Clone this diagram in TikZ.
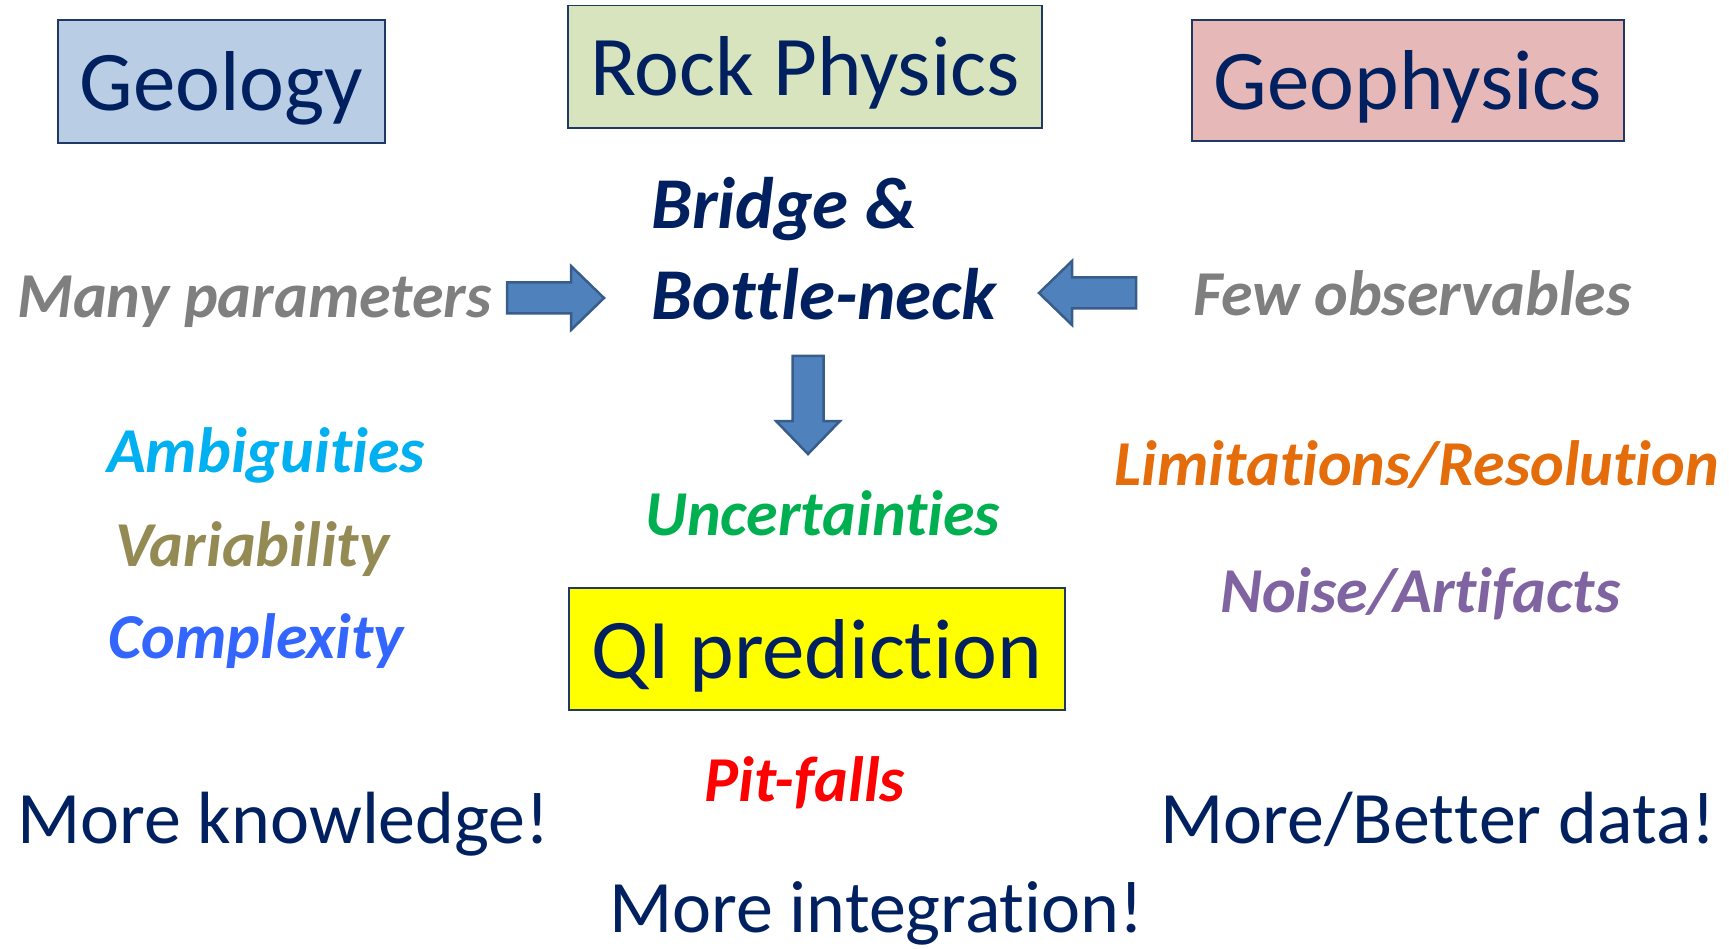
\documentclass[tikz,border=0pt]{standalone}
\usepackage{fontspec}
\setmainfont{Carlito}[Ligatures={NoCommon,NoContextual}]
\newcommand\zk{\kern0pt }
\definecolor{navy}{HTML}{002060}
\definecolor{boxline}{HTML}{1F3864}
\definecolor{geofill}{HTML}{B9CDE5}
\definecolor{rockfill}{HTML}{D7E4BD}
\definecolor{gphfill}{HTML}{E6B9B8}
\definecolor{qifill}{HTML}{FFFF00}
\definecolor{grayt}{HTML}{7F7F7F}
\definecolor{cyant}{HTML}{00B0F0}
\definecolor{olivet}{HTML}{948A54}
\definecolor{bluet}{HTML}{3366FF}
\definecolor{greent}{HTML}{00B050}
\definecolor{oranget}{HTML}{E46C0A}
\definecolor{purplet}{HTML}{8064A2}
\definecolor{redt}{HTML}{FF0000}
\definecolor{arrfill}{HTML}{4F81BD}
\definecolor{arrline}{HTML}{385D8A}
\tikzset{
  box/.style={draw=boxline, line width=1.8pt, inner sep=0pt, text=navy,
    font=\fontsize{85}{100}\selectfont, text height=58pt, text depth=0pt},
  bigtext/.style={inner sep=0pt, anchor=base west, text=navy,
    font=\fontsize{74}{88}\selectfont},
  bnk/.style={inner sep=0pt, anchor=base west, text=navy,
    font=\fontsize{73}{88}\selectfont\bfseries\itshape},
  lbl/.style={inner sep=0pt, anchor=base west,
    font=\fontsize{64}{76}\selectfont\bfseries\itshape},
  blockarrow/.style={fill=arrfill, draw=arrline, line width=2.5pt, line join=miter}
}
\begin{document}
\begin{tikzpicture}[x=1pt,y=-1pt]
\useasboundingbox (0,0) rectangle (1729,949);
% boxes
\node[box, fill=geofill, minimum width=327pt, minimum height=123pt] (geology) at (221.5,81.5) {Geology};
\node[box, fill=rockfill, minimum width=474pt, minimum height=122.5pt] (rock) at (805,66.75) {Rock Physics};
\node[box, fill=gphfill, minimum width=432pt, minimum height=121pt] (geoph) at (1408,80.5) {Geophysics};
\node[box, fill=qifill, minimum width=496pt, minimum height=122pt] (qi) at (817,649) {QI prediction};
% centre texts
\node[bnk] (bridge) at (651,229) {Bridge \&};
\node[bnk] (bottle) at (651,320) {Bot\zk t\zk le-neck};
\node[lbl, text=grayt] (many) at (17,318) {Many parameters};
\node[lbl, text=grayt] (few) at (1193,316) {Few observables};
\node[lbl, text=cyant] (amb) at (107,472) {Ambiguit\zk ies};
\node[lbl, text=olivet] (var) at (115,566) {Variabilit\zk y};
\node[lbl, text=bluet] (cplx) at (108,658) {Complexit\zk y};
\node[lbl, text=greent] (unc) at (645,535) {Uncert\zk aint\zk ies};
\node[lbl, text=oranget] (lim) at (1114,485) {Limit\zk at\zk ions/Resolut\zk ion};
\node[lbl, text=purplet] (noise) at (1220,612) {Noise/Art\zk if\zk acts};
\node[lbl, text=redt] (pit) at (704,801) {Pit-f\zk alls};
\node[bigtext] (know) at (17,843) {More knowledge!};
\node[bigtext] (data) at (1160,843) {More/Bet\zk t\zk er data!};
\node[bigtext] (integ) at (609,932) {More integrat\zk ion!};
% block arrows
\draw[blockarrow] (507,282.5) -- (571,282.5) -- (571,266) -- (604,298) -- (571,330) -- (571,313.5) -- (507,313.5) -- cycle;
\draw[blockarrow] (1136,277.5) -- (1072,277.5) -- (1072,261) -- (1039,293) -- (1072,325) -- (1072,308.5) -- (1136,308.5) -- cycle;
\draw[blockarrow] (792.5,356) -- (792.5,421) -- (776,421) -- (808,454) -- (840,421) -- (823.5,421) -- (823.5,356) -- cycle;
\end{tikzpicture}
\end{document}
